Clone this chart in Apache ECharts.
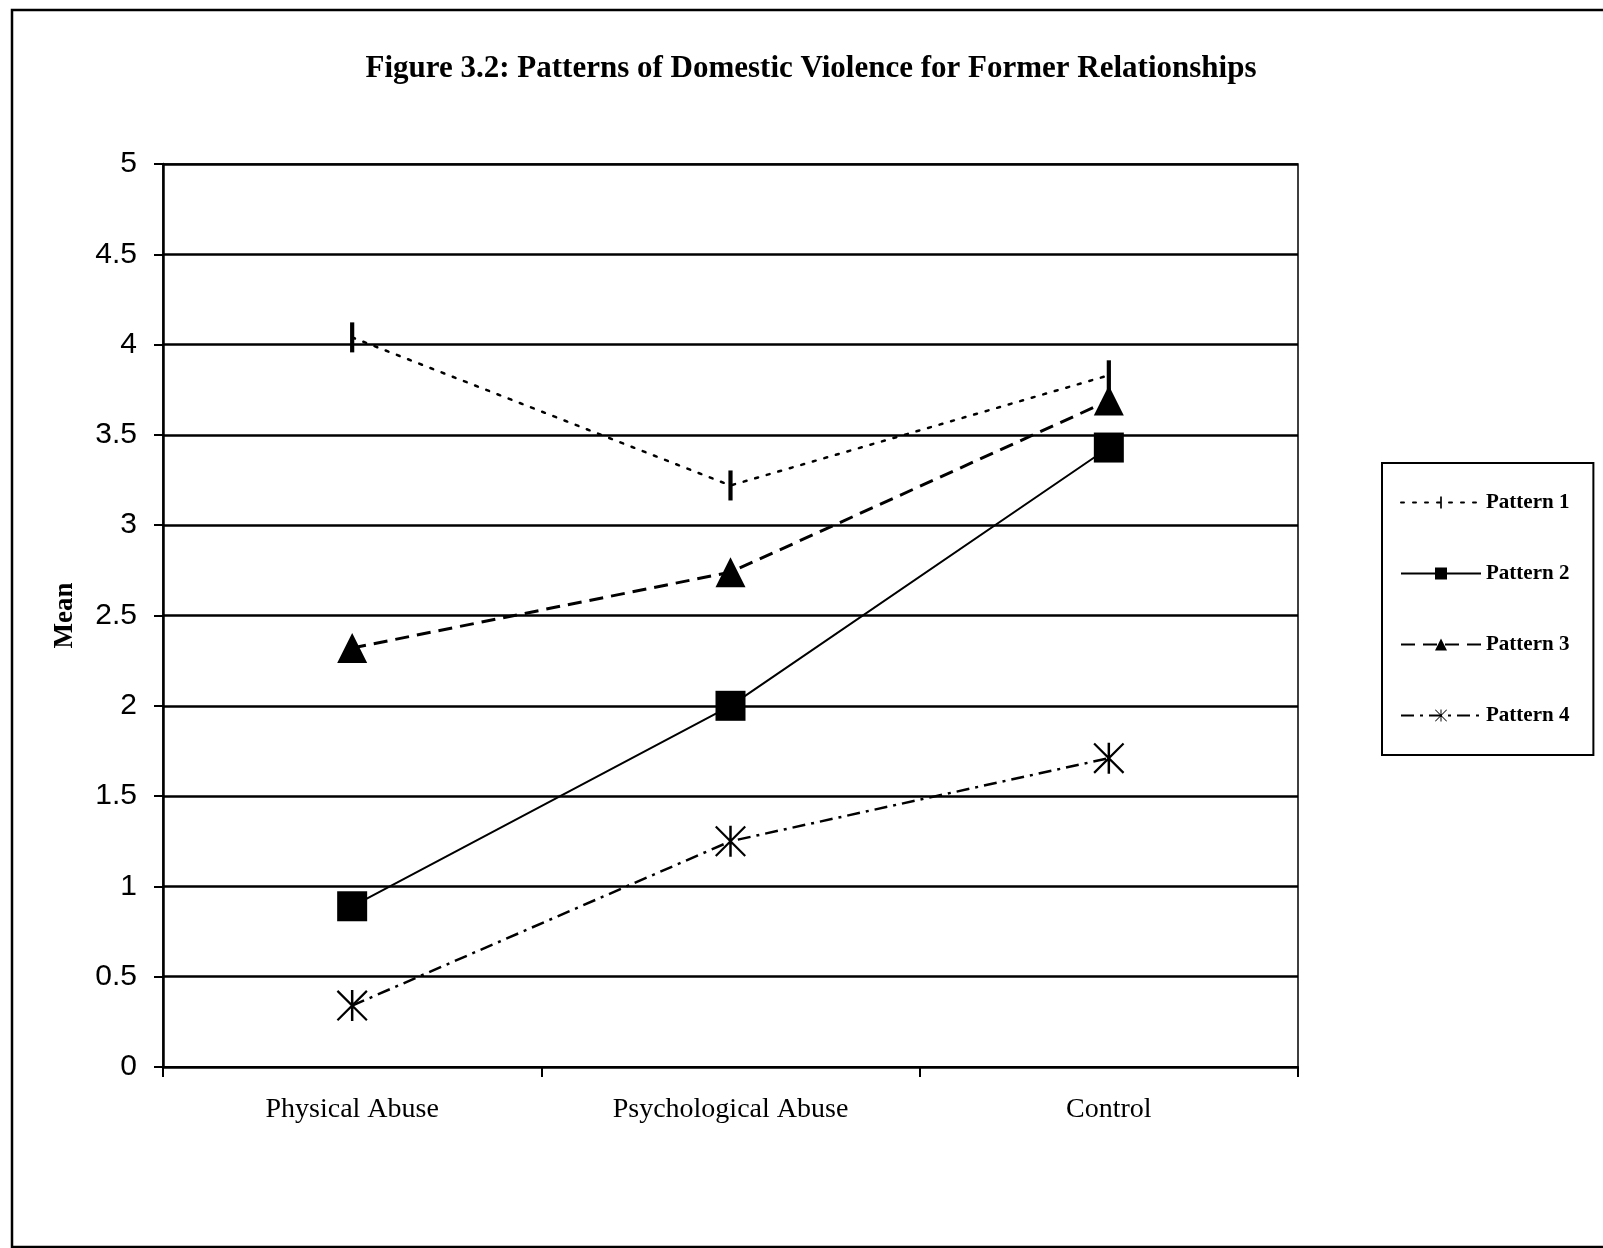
<!DOCTYPE html>
<html>
<head>
<meta charset="utf-8">
<script src="https://cdn.jsdelivr.net/npm/echarts@6/dist/echarts.min.js"></script>
<style>
html,body{margin:0;padding:0;background:#fff;}
#chart{width:1603px;height:1248px;}
</style>
</head>
<body>
<div id="chart"></div>
<script>
const titleText = 'Figure 3.2: Patterns of Domestic Violence for Former Relationships';
const categories = ['Physical Abuse', 'Psychological Abuse', 'Control'];
const seriesNames = ['Pattern 1', 'Pattern 2', 'Pattern 3', 'Pattern 4'];
const pattern1 = [4.04, 3.22, 3.83];
const pattern2 = [0.89, 2.00, 3.43];
const pattern3 = [2.32, 2.74, 3.69];
const pattern4 = [0.34, 1.25, 1.71];
const yTicks = {min: 0, max: 5, interval: 0.5};

const barSymbol = 'path://M0,0 M100,100 M43,0 L57,0 L57,100 L43,100 Z';
const starSymbol = 'path://M46,0 L54,0 L54,100 L46,100 Z M0,5 L5,0 L100,95 L95,100 Z M95,0 L100,5 L5,100 L0,95 Z';

const chart = echarts.init(document.getElementById('chart'), null, {renderer: 'canvas'});
const serif = 'Liberation Serif, Times New Roman, serif';
const sans = 'Liberation Sans, Arial, sans-serif';

chart.setOption({
  backgroundColor: '#fff',
  animation: false,
  graphic: [
    {type: 'rect', shape: {x: 12, y: 10, width: 1640, height: 1237}, style: {fill: 'none', stroke: '#000', lineWidth: 2.5}, silent: true},
    {type: 'text', x: 811, y: 69, style: {text: titleText, fill: '#000', font: 'bold 31px ' + serif, align: 'center', verticalAlign: 'middle'}}
  ],
  grid: {left: 163, right: 305, top: 164, bottom: 181, show: true, borderColor: '#000', borderWidth: 1.5},
  legend: {
    orient: 'vertical', left: 1382, top: 463,
    padding: [29, 24, 29, 18],
    itemWidth: 80, itemHeight: 15, itemGap: 50,
    borderColor: '#000', borderWidth: 2,
    textStyle: {color: '#000', fontFamily: serif, fontWeight: 'bold', fontSize: 21},
    data: seriesNames
  },
  xAxis: {
    type: 'category', data: categories, boundaryGap: true,
    axisLine: {lineStyle: {color: '#000', width: 2}},
    axisTick: {show: true, inside: false, length: 10, alignWithLabel: false, lineStyle: {color: '#000', width: 2}},
    axisLabel: {color: '#000', fontFamily: serif, fontSize: 28, margin: 29},
    splitLine: {show: false}
  },
  yAxis: {
    type: 'value', min: yTicks.min, max: yTicks.max, interval: yTicks.interval,
    name: 'Mean', nameLocation: 'middle', nameRotate: 90, nameGap: 84,
    nameTextStyle: {color: '#000', fontFamily: serif, fontWeight: 'bold', fontSize: 27},
    axisLine: {show: true, lineStyle: {color: '#000', width: 2.5}},
    axisTick: {show: true, inside: false, length: 9, lineStyle: {color: '#000', width: 2}},
    axisLabel: {color: '#000', fontFamily: sans, fontSize: 30, margin: 26},
    splitLine: {show: true, lineStyle: {color: '#000', width: 2.5}}
  },
  series: [
    {name: seriesNames[0], type: 'line', data: pattern1, symbol: barSymbol, symbolSize: 30,
      itemStyle: {color: '#000'}, lineStyle: {color: '#000', width: 2.5, type: [3, 9], cap: 'round'}, z: 5},
    {name: seriesNames[1], type: 'line', data: pattern2, symbol: 'rect', symbolSize: 30,
      itemStyle: {color: '#000'}, lineStyle: {color: '#000', width: 2, type: 'solid'}, z: 5},
    {name: seriesNames[2], type: 'line', data: pattern3, symbol: 'triangle', symbolSize: 30,
      itemStyle: {color: '#000'}, lineStyle: {color: '#000', width: 3, type: [14, 8]}, z: 5},
    {name: seriesNames[3], type: 'line', data: pattern4, symbol: starSymbol, symbolSize: 31,
      itemStyle: {color: '#000'}, lineStyle: {color: '#000', width: 2.5, type: [13, 6, 3, 6]}, z: 5}
  ]
});
</script>
</body>
</html>
